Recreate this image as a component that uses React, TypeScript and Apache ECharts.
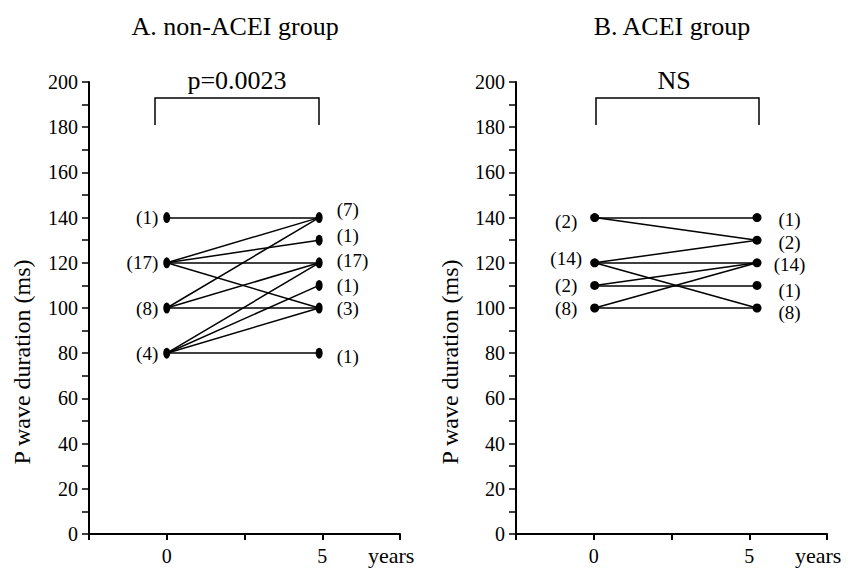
import React, { useEffect, useRef } from "react";
import * as echarts from "echarts";

// ---- Data ----
const Y_TICKS_MIN = 0;
const Y_TICKS_MAX = 200;
const Y_TICK_STEP = 20;
const X_LABELS = [0, 5];
const X_AXIS_MIN = -2.5;
const X_AXIS_MAX = 7.5;
const X_AXIS_STEP = 2.5;

const A_TITLE = "A. non-ACEI group";
const A_STAT = "p=0.0023";
const A_TIMES = [0, 4.9];
const A_LEFT_VALUES = [140, 120, 100, 80];
const A_LEFT_COUNTS = ["(1)", "(17)", "(8)", "(4)"];
const A_RIGHT_VALUES = [140, 130, 120, 110, 100, 80];
const A_RIGHT_COUNTS = ["(7)", "(1)", "(17)", "(1)", "(3)", "(1)"];
const A_LINKS = [
  [140, 140], [120, 140], [120, 130], [120, 120], [120, 100],
  [100, 140], [100, 120], [100, 100],
  [80, 120], [80, 110], [80, 100], [80, 80],
];

const B_TITLE = "B. ACEI group";
const B_STAT = "NS";
const B_TIMES = [0.03, 5.25];
const B_LEFT_VALUES = [140, 120, 110, 100];
const B_LEFT_COUNTS = ["(2)", "(14)", "(2)", "(8)"];
const B_RIGHT_VALUES = [140, 130, 120, 110, 100];
const B_RIGHT_COUNTS = ["(1)", "(2)", "(14)", "(1)", "(8)"];
const B_LINKS = [
  [140, 140], [140, 130],
  [120, 130], [120, 120], [120, 100],
  [110, 120], [110, 110],
  [100, 120], [100, 100],
];

const Y_NAME = "P wave duration (ms)";
const X_NAME = "years";

// ---- Styles ----
const FONT = "Liberation Serif";
const A_RIGHT_DY = [-8, -5, -2, 0, 0, 3];
const B_LEFT_DY = [4, -4, 0, 0];
const B_RIGHT_DY = [2, 2, 2, 5, 4];
const ELLIPSE = "path://M10,0A10,10,0,1,1,10,20A10,10,0,1,1,10,0Z";

export default function App() {
  const ref = useRef<HTMLDivElement>(null);

  useEffect(() => {
    if (!ref.current) return;
    const chart = echarts.init(ref.current, null, { renderer: "svg" });

    const grids = [
      { left: 89, right: 451, top: 82, bottom: 34 },
      { left: 516, right: 24, top: 82, bottom: 34 },
    ];

    const mkX = (i: number) => ({
      type: "value",
      gridIndex: i,
      min: X_AXIS_MIN,
      max: X_AXIS_MAX,
      interval: X_AXIS_STEP,
      splitLine: { show: false },
      axisLine: { show: true, onZero: false, lineStyle: { color: "#000", width: 2 } },
      axisTick: { show: true, length: 6, lineStyle: { color: "#000", width: 2 } },
      axisLabel: {
        show: true,
        margin: 12,
        color: "#000",
        fontFamily: FONT,
        fontSize: 20,
        showMinLabel: true,
        showMaxLabel: true,
        formatter: (v: number) => (X_LABELS.indexOf(v) >= 0 ? String(v) : ""),
      },
    });

    const mkY = (i: number) => ({
      type: "value",
      gridIndex: i,
      min: Y_TICKS_MIN,
      max: Y_TICKS_MAX,
      interval: Y_TICK_STEP,
      splitLine: { show: false },
      axisLine: { show: true, onZero: false, lineStyle: { color: "#000", width: 2 } },
      axisTick: { show: true, length: 7, lineStyle: { color: "#000", width: 1.5 } },
      minorTick: { show: true, splitNumber: 2, length: 7, lineStyle: { color: "#000", width: 1.5 } },
      axisLabel: { margin: 11, color: "#000", fontFamily: FONT, fontSize: 20 },
    });

    const linkSeries = (i: number, times: number[], links: number[][]) => ({
      type: "lines",
      coordinateSystem: "cartesian2d",
      xAxisIndex: i,
      yAxisIndex: i,
      silent: true,
      lineStyle: { color: "#000", width: 1.5, opacity: 1 },
      data: links.map(([a, b]) => ({ coords: [[times[0], a], [times[1], b]] })),
      z: 2,
    });

    const labelBase = { show: true, color: "#000", fontFamily: FONT, fontSize: 19 };

    const pointSeries = (
      i: number,
      t: number,
      values: number[],
      counts: string[],
      symbol: string,
      size: number[],
      side: "left" | "right",
      distance: number,
      dys: number[] | null,
      align?: string
    ) => ({
      type: "scatter",
      xAxisIndex: i,
      yAxisIndex: i,
      symbol,
      symbolSize: size,
      itemStyle: { color: "#000", opacity: 1 },
      silent: true,
      z: 3,
      label: { ...labelBase },
      data: values.map((v, k) => ({
        value: [t, v],
        label: {
          ...labelBase,
          position: side,
          distance,
          offset: [0, dys ? dys[k] : 0],
          ...(align ? { align } : {}),
          formatter: counts[k],
        },
      })),
    });

    const text = (x: number, y: number, s: string, size: number, extra: any = {}) => ({
      type: "text",
      x,
      y,
      silent: true,
      style: {
        text: s,
        fill: "#000",
        font: `${size}px ${FONT}`,
        textAlign: "center",
        textVerticalAlign: "middle",
        ...extra,
      },
    });

    const bracket = (x1: number, x2: number) => ({
      type: "polyline",
      silent: true,
      shape: { points: [[x1, 125], [x1, 98], [x2, 98], [x2, 125]] },
      style: { stroke: "#000", lineWidth: 1.5, fill: null },
    });

    const yName = (x: number) => ({
      type: "text",
      x,
      y: 362,
      rotation: Math.PI / 2,
      silent: true,
      style: {
        text: Y_NAME,
        fill: "#000",
        font: `24px ${FONT}`,
        textAlign: "center",
        textVerticalAlign: "middle",
      },
    });

    chart.setOption({
      animation: false,
      backgroundColor: "#fff",
      textStyle: { fontFamily: FONT, color: "#000" },
      grid: grids,
      xAxis: [mkX(0), mkX(1)],
      yAxis: [mkY(0), mkY(1)],
      series: [
        linkSeries(0, A_TIMES, A_LINKS),
        linkSeries(1, B_TIMES, B_LINKS),
        pointSeries(0, A_TIMES[0], A_LEFT_VALUES, A_LEFT_COUNTS, ELLIPSE, [7, 11], "left", 5, null),
        pointSeries(0, A_TIMES[1], A_RIGHT_VALUES, A_RIGHT_COUNTS, ELLIPSE, [7, 11], "right", 14, A_RIGHT_DY),
        pointSeries(1, B_TIMES[0], B_LEFT_VALUES, B_LEFT_COUNTS, "circle", [9, 9], "left", 24, B_LEFT_DY, "center"),
        pointSeries(1, B_TIMES[1], B_RIGHT_VALUES, B_RIGHT_COUNTS, "circle", [9, 9], "right", 28, B_RIGHT_DY, "center"),
      ],
      graphic: [
        text(235, 26, A_TITLE, 26),
        text(672, 26, B_TITLE, 26),
        text(237, 80, A_STAT, 26),
        text(674, 80, B_STAT, 26),
        bracket(155, 319),
        bracket(596, 759),
        yName(22),
        yName(450),
        text(368, 555, X_NAME, 22, { textAlign: "left" }),
        text(795, 555, X_NAME, 22, { textAlign: "left" }),
      ],
    });

    return () => chart.dispose();
  }, []);

  return (
    <div
      ref={ref}
      style={{ position: "absolute", left: 0, top: 0, width: 851, height: 568, background: "#fff" }}
    />
  );
}
